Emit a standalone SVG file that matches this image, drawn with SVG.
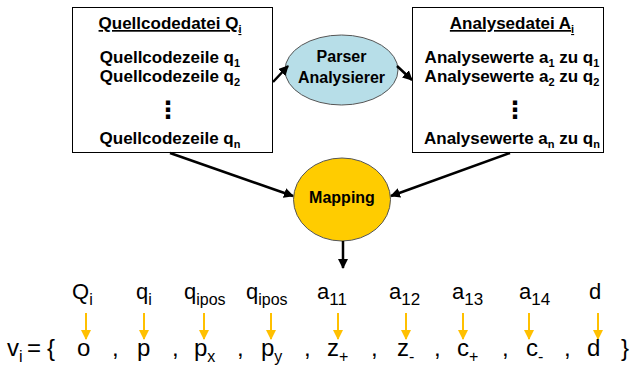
<svg xmlns="http://www.w3.org/2000/svg" width="631" height="369" viewBox="0 0 631 369">
<defs>
<style>
.box{fill:#fff;stroke:#000;stroke-width:1}
.bt{font-family:"Liberation Sans",Arial,sans-serif;font-weight:bold;font-size:17px;fill:#000;text-anchor:middle}
.bs{font-size:11px}
.ul{text-decoration:underline}
.dots{font-family:"DejaVu Sans",sans-serif;font-weight:bold;font-size:24px;text-anchor:middle}
.et{font-family:"Liberation Sans",Arial,sans-serif;font-weight:bold;font-size:16px;text-anchor:middle;fill:#000}
.t{font-family:"Liberation Sans",Arial,sans-serif;font-size:22px;fill:#000}
.b{font-family:"Liberation Sans",Arial,sans-serif;font-size:24px;fill:#000}
.s{font-size:16px}
.s2{font-size:17px}
.conn{stroke:#000;stroke-width:2.5;fill:none;marker-end:url(#ah)}
.yc{stroke:#FFC000;stroke-width:2;fill:none;marker-end:url(#yh)}
</style>
<marker id="ah" viewBox="0 0 10 10" refX="9" refY="5" markerWidth="4" markerHeight="4" orient="auto" markerUnits="strokeWidth">
<path d="M0,0 L10,5 L0,10 z" fill="#000"/>
</marker>
<marker id="yh" viewBox="0 0 10 10" refX="9" refY="5" markerWidth="5" markerHeight="5" orient="auto" markerUnits="strokeWidth">
<path d="M0,0 L10,5 L0,10 z" fill="#FFC000"/>
</marker>
</defs>

<g id="quellcodedatei">
<rect class="box" x="72.5" y="7.5" width="200" height="145"/>
<text class="bt ul" x="170" y="29">Quellcodedatei Q<tspan class="bs" dy="4">i</tspan></text>
<text class="bt" x="170" y="63">Quellcodezeile q<tspan class="bs" dy="4">1</tspan></text>
<text class="bt" x="170" y="82">Quellcodezeile q<tspan class="bs" dy="4">2</tspan></text>
<text class="dots" x="168" y="118">⋮</text>
<text class="bt" x="170" y="144">Quellcodezeile q<tspan class="bs" dy="4">n</tspan></text>
</g>

<g id="analysedatei">
<rect class="box" x="412.5" y="7.5" width="191" height="145"/>
<text class="bt ul" x="512" y="29">Analysedatei A<tspan class="bs" dy="4">i</tspan></text>
<text class="bt" x="512" y="63">Analysewerte a<tspan class="bs" dy="4">1</tspan><tspan dy="-4"> zu q</tspan><tspan class="bs" dy="4">1</tspan></text>
<text class="bt" x="512" y="82">Analysewerte a<tspan class="bs" dy="4">2</tspan><tspan dy="-4"> zu q</tspan><tspan class="bs" dy="4">2</tspan></text>
<text class="dots" x="515" y="118">⋮</text>
<text class="bt" x="512" y="144">Analysewerte a<tspan class="bs" dy="4">n</tspan><tspan dy="-4"> zu q</tspan><tspan class="bs" dy="4">n</tspan></text>
</g>

<g id="parser">
<ellipse cx="341.5" cy="70" rx="56.5" ry="35" fill="#B7DEE8" stroke="#555" stroke-width="1"/>
<text class="et" x="341.5" y="62">Parser</text>
<text class="et" x="341.5" y="83">Analysierer</text>
</g>

<g id="mapping">
<ellipse cx="342" cy="199.5" rx="48.5" ry="41.5" fill="#FFCC00" stroke="#555" stroke-width="1"/>
<text class="et" x="342" y="203">Mapping</text>
</g>

<g id="connectors">
<line class="conn" x1="273" y1="82" x2="288" y2="66"/>
<line class="conn" x1="397" y1="66" x2="412" y2="80"/>
<line class="conn" x1="170" y1="153" x2="293" y2="196"/>
<line class="conn" x1="510" y1="153" x2="391" y2="196"/>
<line class="conn" x1="343" y1="241" x2="343" y2="268"/>
<line class="yc" x1="86" y1="313" x2="86" y2="339"/>
<line class="yc" x1="144" y1="313" x2="144" y2="339"/>
<line class="yc" x1="204" y1="313" x2="204" y2="339"/>
<line class="yc" x1="271" y1="313" x2="271" y2="339"/>
<line class="yc" x1="338" y1="313" x2="338" y2="339"/>
<line class="yc" x1="406" y1="313" x2="406" y2="339"/>
<line class="yc" x1="463" y1="313" x2="463" y2="339"/>
<line class="yc" x1="529" y1="313" x2="529" y2="339"/>
<line class="yc" x1="598" y1="313" x2="598" y2="339"/>
</g>

<g id="sources">
<text class="t" x="72" y="299">Q<tspan class="s" dy="6">i</tspan></text>
<text class="t" x="136" y="299">q<tspan class="s" dy="6">i</tspan></text>
<text class="t" x="184" y="299">q<tspan class="s" dy="6">ipos</tspan></text>
<text class="t" x="246" y="299">q<tspan class="s" dy="6">ipos</tspan></text>
<text class="t" x="317" y="299">a<tspan class="s2" dy="6">11</tspan></text>
<text class="t" x="389" y="299">a<tspan class="s2" dy="6">12</tspan></text>
<text class="t" x="452" y="299">a<tspan class="s2" dy="6">13</tspan></text>
<text class="t" x="519" y="299">a<tspan class="s2" dy="6">14</tspan></text>
<text class="t" x="589" y="299">d</text>
</g>

<g id="vector">
<text class="b" x="7" y="356">v<tspan class="s" dy="6">i</tspan></text>
<text class="b" x="27" y="356">=</text>
<text class="b" x="47" y="356">{</text>
<text class="b" x="77" y="356">o</text>
<text class="b" x="112" y="356">,</text>
<text class="b" x="137" y="356">p</text>
<text class="b" x="172" y="356">,</text>
<text class="b" x="194" y="356">p<tspan class="s" dy="6">x</tspan></text>
<text class="b" x="237" y="356">,</text>
<text class="b" x="261" y="356">p<tspan class="s" dy="6">y</tspan></text>
<text class="b" x="304" y="356">,</text>
<text class="b" x="327" y="356">z<tspan class="s" dy="6">+</tspan></text>
<text class="b" x="371" y="356">,</text>
<text class="b" x="397" y="356">z<tspan class="s" dy="6">-</tspan></text>
<text class="b" x="434" y="356">,</text>
<text class="b" x="457" y="356">c<tspan class="s" dy="6">+</tspan></text>
<text class="b" x="502" y="356">,</text>
<text class="b" x="526" y="356">c<tspan class="s" dy="6">-</tspan></text>
<text class="b" x="564" y="356">,</text>
<text class="b" x="587" y="356">d</text>
<text class="b" x="621" y="356">}</text>
</g>
</svg>
